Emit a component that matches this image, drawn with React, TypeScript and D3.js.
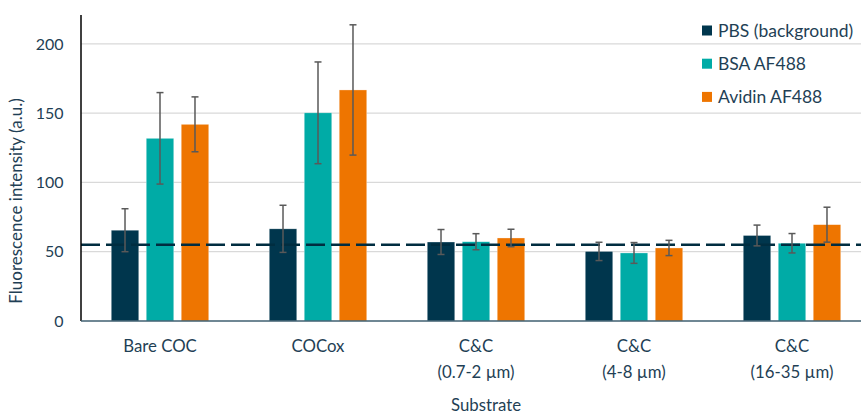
import React from "react";
import * as d3 from "d3";

const categories = [["Bare COC"], ["COCox"], ["C&C", "(0.7-2 µm)"], ["C&C", "(4-8 µm)"], ["C&C", "(16-35 µm)"]];
const seriesNames = ["PBS (background)", "BSA AF488", "Avidin AF488"];
const pbsValues = [65.5, 66.5, 57, 50.2, 61.7];
const pbsErrors = [15.5, 17, 9, 6.6, 7.5];
const bsaValues = [131.8, 150.2, 57.2, 49.1, 56.1];
const bsaErrors = [33, 36.7, 5.8, 7.5, 7];
const avidinValues = [141.9, 166.7, 59.9, 52.7, 69.5];
const avidinErrors = [19.8, 47, 6.3, 5.5, 12.6];
const yTicks = [0, 50, 100, 150, 200];
const backgroundLevel = 55;

const colors = ["#00364D", "#00ABA6", "#EE7500"];
const FONT = "Lato, 'Open Sans', sans-serif";
const TEXT = "#1F3F55";

export default function App() {
  const W = 861, H = 414;
  const left = 81, right = 871, top = 15, bottom = 321;
  const y = d3.scaleLinear().domain([0, 200]).range([bottom, 43.8]);
  const x0 = d3.scaleBand<number>().domain(categories.map((_, i) => i)).range([left, right]).paddingInner(0.383).paddingOuter(0.1915);
  const x1 = d3.scaleBand<number>().domain([0, 1, 2]).range([0, x0.bandwidth()]).paddingInner(0.214);
  const values = [pbsValues, bsaValues, avidinValues];
  const errors = [pbsErrors, bsaErrors, avidinErrors];

  return (
    <svg width={W} height={H} style={{ display: "block", position: "absolute", left: 0, top: 0 }} fontFamily={FONT}>
      <rect width={W} height={H} fill="#fff" />
      {yTicks.filter(t => t > 0).map(t => (
        <line key={t} x1={left} x2={W} y1={y(t)} y2={y(t)} stroke="#D9D9D9" strokeWidth={1.2} />
      ))}
      {values.map((vals, s) =>
        vals.map((v, i) => (
          <rect key={`${s}-${i}`} x={x0(i)! + x1(s)!} y={y(v)} width={x1.bandwidth()} height={bottom - y(v)}
            fill={colors[s]} stroke="#ffffff" strokeOpacity={0.5} strokeWidth={0.6} />
        ))
      )}
      <line x1={left} x2={W} y1={y(backgroundLevel)} y2={y(backgroundLevel)} stroke="#002D40" strokeWidth={2.4} strokeDasharray="19,6" />
      {values.map((vals, s) =>
        vals.map((v, i) => {
          const cx = x0(i)! + x1(s)! + x1.bandwidth() / 2;
          const e = errors[s][i];
          return (
            <g key={`e${s}-${i}`} stroke="#595959" strokeWidth={1.5}>
              <line x1={cx} x2={cx} y1={y(v + e)} y2={y(v - e)} />
              <line x1={cx - 3.5} x2={cx + 3.5} y1={y(v + e)} y2={y(v + e)} />
              <line x1={cx - 3.5} x2={cx + 3.5} y1={y(v - e)} y2={y(v - e)} />
            </g>
          );
        })
      )}
      <line x1={left} x2={left} y1={top} y2={bottom} stroke="#000" strokeWidth={1.5} />
      <line x1={left} x2={W} y1={bottom} y2={bottom} stroke="#3F5F70" strokeWidth={1.6} />
      {yTicks.map(t => (
        <text key={t} x={63.5} y={y(t)} dy="0.36em" textAnchor="end" fontSize={16} fill={TEXT}>{t}</text>
      ))}
      <text transform={`translate(22,${201}) rotate(-90)`} textAnchor="middle" fontSize={17} fill={TEXT}>Fluorescence intensity (a.u.)</text>
      {categories.map((lines, i) => (
        <text key={i} x={x0(i)! + x0.bandwidth() / 2} y={352} textAnchor="middle" fontSize={16.8} fill={TEXT}>
          {lines.map((l, k) => (
            <tspan key={k} x={x0(i)! + x0.bandwidth() / 2} dy={k === 0 ? 0 : 25.5}>{l}</tspan>
          ))}
        </text>
      ))}
      <text x={486} y={410.5} textAnchor="middle" fontSize={16.8} fill={TEXT}>Substrate</text>
      {seriesNames.map((n, s) => (
        <g key={n} transform={`translate(702,${30.5 + s * 33.2})`}>
          <rect x={0} y={-5} width={10} height={10} fill={colors[s]} />
          <text x={16} y={0} dy="0.36em" fontSize={17.5} fill={TEXT}>{n}</text>
        </g>
      ))}
    </svg>
  );
}
